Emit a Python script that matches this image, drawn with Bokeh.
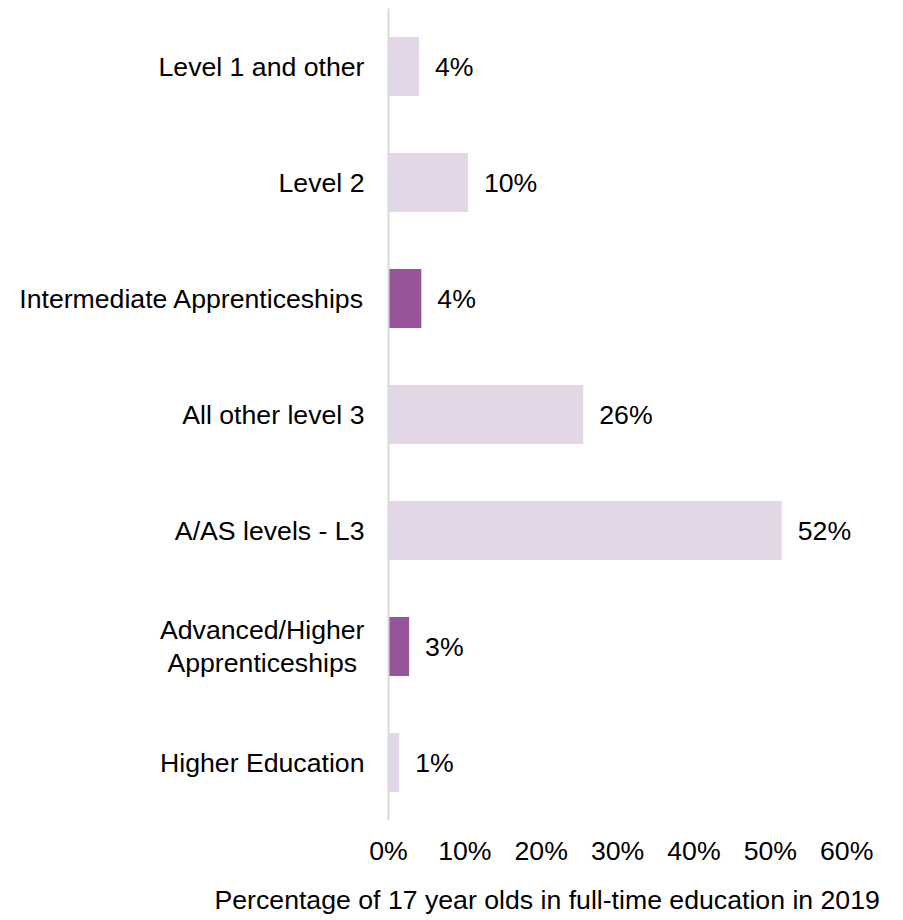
from bokeh.plotting import figure
from bokeh.models import FactorRange, Range1d, FixedTicker, PrintfTickFormatter, ColumnDataSource, Title
from bokeh.core.properties import value
from bokeh.embed import file_html
from bokeh.resources import INLINE

categories = ["Level 1 and other", "Level 2", "Intermediate Apprenticeships",
              "All other level 3", "A/AS levels - L3",
              "Advanced/Higher\nApprenticeships ", "Higher Education"]
values = [4.0, 10.4, 4.3, 25.5, 51.5, 2.7, 1.4]
is_apprenticeship = [False, False, True, False, False, True, False]
x_ticks = [0, 10, 20, 30, 40, 50, 60]
x_title = "Percentage of 17 year olds in full-time education in 2019"

LIGHT = "#E3D6E6"
DARK = "#98549B"
FONT = "Liberation Sans"
FS = "26.67px"

colors = [DARK if a else LIGHT for a in is_apprenticeship]
labels = [f"{round(v)}%" for v in values]
src = ColumnDataSource(dict(cat=categories, val=values, color=colors, label=labels))

p = figure(y_range=FactorRange(*reversed(categories)), x_range=Range1d(0, 66),
           frame_width=504, frame_height=812, output_backend="svg",
           toolbar_location=None, min_border_left=388, min_border_right=0,
           min_border_top=8, min_border_bottom=0)

p.hbar(y="cat", right="val", left=0, height=0.51, color="color", line_color=None, source=src)
p.text(x="val", y="cat", text="label", source=src, x_offset=16,
       text_baseline="middle", text_align="left", text_font=value(FONT),
       text_font_size=FS, text_color="#000000")

p.outline_line_color = None
p.grid.visible = False

p.xaxis.ticker = FixedTicker(ticks=x_ticks)
p.xaxis.formatter = PrintfTickFormatter(format="%d%%")
p.xaxis.axis_line_color = None
p.xaxis.major_tick_line_color = None
p.xaxis.minor_tick_line_color = None
p.xaxis.major_label_standoff = 9
p.xaxis.major_label_text_font = FONT
p.xaxis.major_label_text_font_size = FS
p.xaxis.major_label_text_color = "#000000"

p.yaxis.axis_line_color = "#D9D9D9"
p.yaxis.axis_line_width = 2
p.yaxis.major_tick_line_color = None
p.yaxis.minor_tick_line_color = None
p.yaxis.major_label_standoff = 18
p.yaxis.major_label_text_font = FONT
p.yaxis.major_label_text_font_size = FS
p.yaxis.major_label_text_color = "#000000"
p.yaxis.major_label_text_line_height = 1.1

t = Title(text=x_title, align="left", offset=-174, standoff=28, text_font=FONT,
          text_font_size=FS, text_font_style="normal", text_color="#000000")
p.add_layout(t, "below")

open("out.html", "w").write(file_html(p, INLINE))
